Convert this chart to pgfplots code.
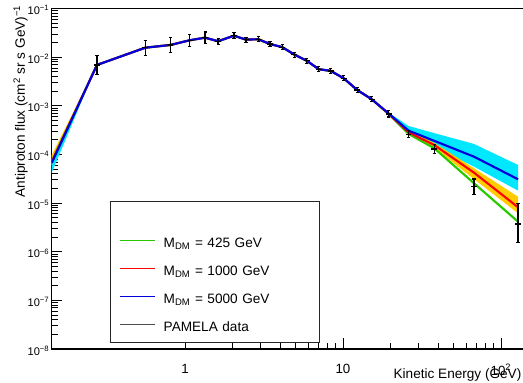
\documentclass[border=0pt]{standalone}
\usepackage{pgfplots}
\pgfplotsset{compat=1.18}
\usepackage{pgfplotstable}
\usepackage{fontspec}
\setmainfont{Liberation Sans}
\definecolor{mgreen}{RGB}{40,200,0}
\definecolor{mred}{RGB}{255,0,0}
\definecolor{mblue}{RGB}{0,0,220}
\definecolor{mcyan}{RGB}{0,232,255}
\definecolor{morange}{RGB}{255,204,0}
\pgfplotstableread{
x y ep em
0.277 6.9e-3 4.02e-3 2.54e-3
0.56 0.0156 0.00665 0.00466
0.81 0.0178 0.00723 0.00514
1.07 0.0222 0.00702 0.00533
1.34 0.0251 0.00778 0.00594
1.62 0.0212 0.00324 0.00281
2.04 0.0276 0.00453 0.00389
2.43 0.0229 0.00289 0.00256
2.91 0.0233 0.00294 0.00261
3.45 0.0186 0.00234 0.00208
4.13 0.0160 0.00202 0.00179
4.92 0.01127 0.00142 0.00126
5.89 0.00845 0.00106 0.000946
7.02 0.00565 0.000712 0.000632
8.36 0.00521 0.000656 0.000583
10.1 0.00367 0.000462 0.000411
12.3 0.00211 0.000266 0.000236
15.2 0.00136 0.000171 0.000152
19.5 6.78e-4 1.04e-4 9.0e-5
26.0 2.6e-4 4.68e-5 3.97e-5
37.8 1.29e-4 2.92e-5 2.38e-5
67.5 2.17e-5 9.55e-6 6.63e-6
128.2 3.7e-6 6.16e-6 2.17e-6
}\pamela
\pgfplotstableread{
x g r b
0.1433 7.2e-5 7.0e-5 6.65e-5
0.277 6.9e-3 6.9e-3 6.9e-3
0.56 0.0156 0.0156 0.0156
0.81 0.0178 0.0178 0.0178
1.07 0.0222 0.0222 0.0222
1.34 0.0251 0.0251 0.0251
1.62 0.0212 0.0212 0.0212
2.04 0.0276 0.0276 0.0276
2.43 0.0229 0.0229 0.0229
2.91 0.0233 0.0233 0.0233
3.45 0.0186 0.0186 0.0186
4.13 0.0160 0.0160 0.0160
4.92 0.01127 0.01127 0.01127
5.89 0.00845 0.00845 0.00845
7.02 0.00565 0.00565 0.00565
8.36 0.00521 0.00521 0.00521
10.1 0.00367 0.00367 0.00367
12.3 0.00211 0.00211 0.00211
15.2 0.00136 0.00136 0.00136
19.5 6.7e-4 6.8e-4 6.9e-4
26.0 2.63e-4 2.85e-4 3.08e-4
37.8 1.34e-4 1.56e-4 1.90e-4
67.5 2.55e-5 4.21e-5 8.97e-5
128.2 4.14e-6 8.2e-6 3.08e-5
}\model
\begin{document}
\begin{tikzpicture}
\useasboundingbox (-38.8pt,-25.5pt) rectangle (353.5pt,261.75pt);
\begin{axis}[
  scale only axis, width=355.7pt, height=255.4pt,
  xmode=log, ymode=log,
  xmin=0.1433, xmax=143.9, ymin=1e-8, ymax=0.1,
  tick pos=left, tick align=inside,
  major tick length=8pt, minor tick length=4.5pt,
  every tick/.style={black, line width=0.6pt},
  axis line style={line width=0.9pt},
  xtick={1,10,100}, xticklabels={1,10,10\textsuperscript{2}},
  ytick={1e-8,1e-7,1e-6,1e-5,1e-4,1e-3,1e-2,1e-1},
  yticklabels={10\textsuperscript{−8},10\textsuperscript{−7},10\textsuperscript{−6},10\textsuperscript{−5},10\textsuperscript{−4},10\textsuperscript{−3},10\textsuperscript{−2},10\textsuperscript{−1}},
  xticklabel style={yshift=-7.85pt, font=\fontsize{10}{12}\selectfont},
  yticklabel style={inner xsep=1.5pt, yshift=-1.2pt, font=\fontsize{8.3}{10}\selectfont},
  xlabel={Kinetic Energy (GeV)},
  ylabel={Antiproton flux (cm\textsuperscript{2} sr s GeV)\textsuperscript{−1}},
  every axis x label/.style={at={(axis description cs:0.9909,-0.0881)}, anchor=base east, inner sep=0pt, font=\fontsize{10.2}{12}\selectfont},
  every axis y label/.style={at={(axis description cs:-0.050,1.0103)}, anchor=south east, rotate=90, inner sep=0pt, font=\fontsize{10.2}{12}\selectfont},
  legend style={
    at={(axis description cs:0.1229,0.0176)}, anchor=south west,
    draw=black!85, line width=0.75pt, fill=white,
    inner xsep=6.2pt, inner ysep=0.4pt,
    column sep=5.8pt, row sep=0pt,
    font=\fontsize{10.2}{12}\selectfont,
    nodes={text width=111pt, align=left, minimum height=21pt, inner sep=0pt, text height=7.5pt, text depth=2.5pt},
  },
  legend image code/.code={\draw[#1] (0pt,2.5pt) -- (26.8pt,2.5pt);},
]
% bands
\addplot[fill=mcyan, draw=none, forget plot] coordinates {(0.1433,7.0e-5) (0.277,6.9e-3) (0.1433,4.2e-5)} -- cycle;
\addplot[fill=morange, draw=none, forget plot] coordinates {(0.1433,9.7e-5) (0.277,6.9e-3) (0.1433,6.0e-5)} -- cycle;
\addplot[fill=mcyan, draw=none, forget plot] coordinates {(15.2,1.36e-3) (19.5,7.2e-4) (26,3.84e-4) (37.8,2.74e-4) (67.5,1.64e-4) (128.2,6.07e-5) (128.2,1.8e-5) (67.5,5.6e-5) (37.8,1.42e-4) (26,2.72e-4) (19.5,6.6e-4)} -- cycle;
\addplot[fill=morange, draw=none, forget plot] coordinates {(15.2,1.36e-3) (19.5,6.95e-4) (26,3.03e-4) (37.8,1.72e-4) (67.5,5.2e-5) (128.2,1.35e-5) (128.2,6.17e-6) (67.5,3.1e-5) (37.8,1.36e-4) (26,2.55e-4) (19.5,6.6e-4)} -- cycle;
% model lines
\addplot[mgreen, line width=1.6pt, no marks, forget plot] table[x=x, y=g]{\model};
\addplot[mred, line width=1.6pt, no marks, forget plot] table[x=x, y=r]{\model};
\addplot[mblue, line width=1.6pt, no marks, forget plot] table[x=x, y=b]{\model};
% data
\addplot[black, only marks, mark=-, mark size=2.2pt, line width=1pt, forget plot,
  error bars/.cd, y dir=both, y explicit,
  error bar style={line width=1pt, black},
  error mark options={rotate=90, mark size=1.2pt, line width=0.8pt, black}]
  table[x=x, y=y, y error plus=ep, y error minus=em]{\pamela};
% legend
\addlegendimage{empty legend}\addlegendentry{}
\addlegendimage{mgreen, line width=1.1pt}\addlegendentry{M\textsubscript{DM} = 425 GeV}
\addlegendimage{mred, line width=1.1pt}\addlegendentry{M\textsubscript{DM} = 1000 GeV}
\addlegendimage{mblue, line width=1.1pt}\addlegendentry{M\textsubscript{DM} = 5000 GeV}
\addlegendimage{black!70, line width=1.1pt}\addlegendentry{PAMELA data}
\end{axis}
\end{tikzpicture}
\end{document}
